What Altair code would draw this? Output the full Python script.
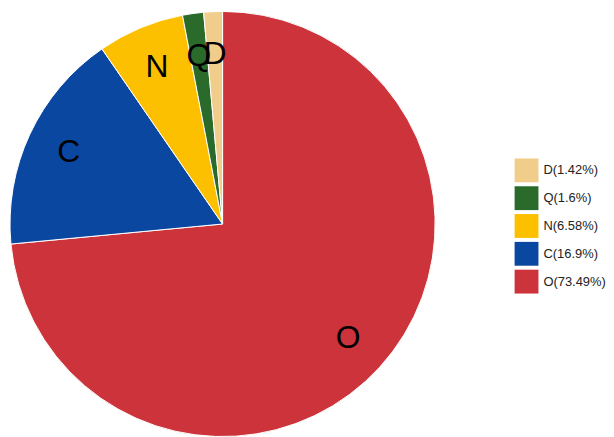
import altair as alt
import pandas as pd

categories = ["O", "C", "N", "Q", "D"]
values = [73.49, 16.9, 6.58, 1.6, 1.42]
labels = ["O(73.49%)", "C(16.9%)", "N(6.58%)", "Q(1.6%)", "D(1.42%)"]
colors = ["#cc333a", "#0a47a0", "#fcc000", "#2a6a2a", "#f0cd8a"]

df = pd.DataFrame({
    "cat": categories,
    "value": values,
    "label": labels,
    "order": list(range(len(categories))),
})

legend_order = labels[::-1]
color_order = colors[::-1]

base = alt.Chart(df).encode(
    theta=alt.Theta("value:Q", stack=True),
    order=alt.Order("order:Q"),
)

arcs = base.mark_arc(stroke="white", strokeWidth=1).encode(
    color=alt.Color(
        "label:N",
        scale=alt.Scale(domain=legend_order, range=color_order),
        legend=alt.Legend(
            title=None,
            orient="none",
            legendX=508,
            legendY=148,
            symbolType="square",
            symbolSize=576,
            symbolStrokeWidth=0,
            symbolOpacity=1,
            rowPadding=4,
            labelFontSize=13,
            labelFont="Liberation Sans",
            labelColor="#222222",
            labelOffset=5,
        ),
    )
)

text = base.mark_text(radius=171, fontSize=32, font="Liberation Sans", color="black").encode(
    text="cat:N"
)

chart = (arcs + text).properties(width=428, height=428, padding=0).configure_view(stroke=None)

chart.save("out.html", embed_options={"renderer": "svg", "actions": False})
